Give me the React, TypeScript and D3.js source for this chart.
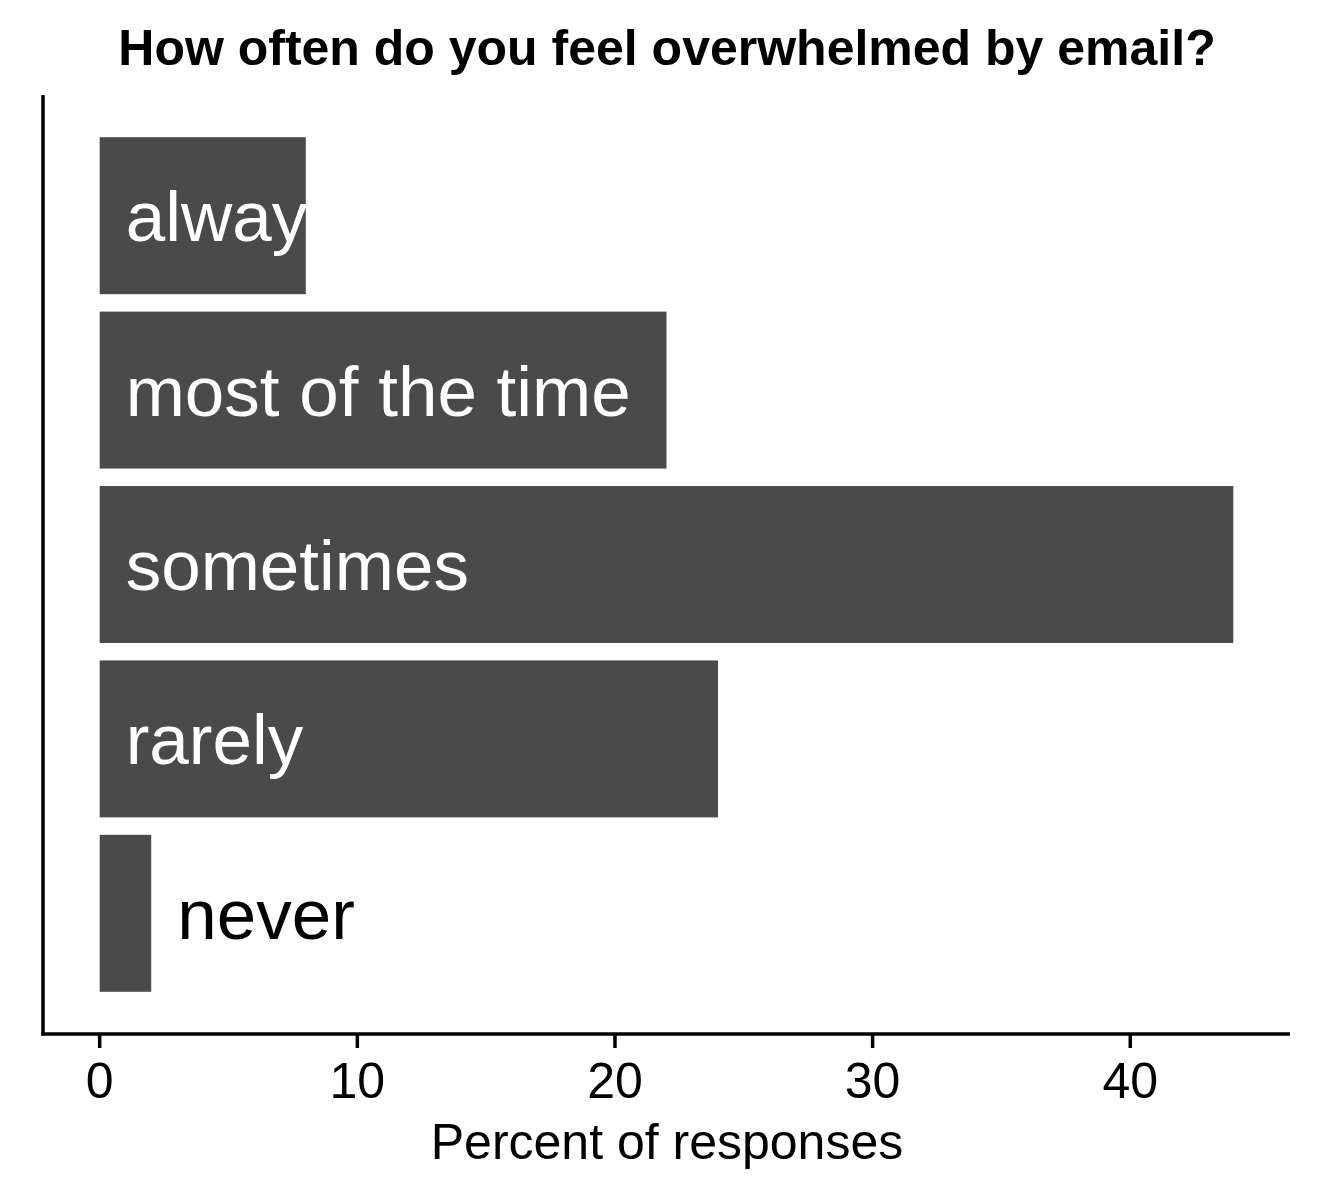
import React from "react";
import * as d3 from "d3";

const categories = ["always", "most of the time", "sometimes", "rarely", "never"];
const percents = [8, 22, 44, 24, 2];
const insideLabel = [true, true, true, true, false];
const xTicks = [0, 10, 20, 30, 40];
const title = "How often do you feel overwhelmed by email?";
const xTitle = "Percent of responses";

export default function App() {
  const W = 1320, H = 1200;
  const left = 43, right = 1290, top = 95, bottom = 1034;
  const x = d3.scaleLinear().domain([-2.2, 46.2]).range([left, right]);
  const y = d3.scaleBand<string>().domain(categories).range([top, bottom]).paddingInner(0.1).paddingOuter(0.242);
  const font = "'Liberation Sans', Arial, Helvetica, sans-serif";
  return (
    <svg width={W} height={H} style={{ position: "absolute", left: 0, top: 0, background: "#fff" }} fontFamily={font}>
      <text x={667} y={65} textAnchor="middle" fontWeight="bold" fontSize={50}>{title}</text>
      {categories.map((c, i) => (
        <rect key={c} x={x(0)} y={y(c)!} width={x(percents[i]) - x(0)} height={y.bandwidth()} fill="#4a4a4a" />
      ))}
      {categories.map((c, i) => (
        <text key={c + "l"} x={(insideLabel[i] ? x(0) : x(percents[i])) + 26} y={y(c)! + y.bandwidth() / 2} dy="0.36em"
          fontSize={71} fill={insideLabel[i] ? "#ffffff" : "#000000"}>{c}</text>
      ))}
      <line x1={left} x2={left} y1={top} y2={bottom + 1.5} stroke="#000" strokeWidth={3.5} />
      <line x1={left - 1.75} x2={right} y1={bottom} y2={bottom} stroke="#000" strokeWidth={3.5} />
      {xTicks.map((t) => (
        <g key={t}>
          <line x1={x(t)} x2={x(t)} y1={bottom} y2={bottom + 14} stroke="#000" strokeWidth={3.5} />
          <text x={x(t)} y={1098} textAnchor="middle" fontSize={50} fill="#000">{t}</text>
        </g>
      ))}
      <text x={667} y={1159} textAnchor="middle" fontSize={50} fill="#000">{xTitle}</text>
    </svg>
  );
}
